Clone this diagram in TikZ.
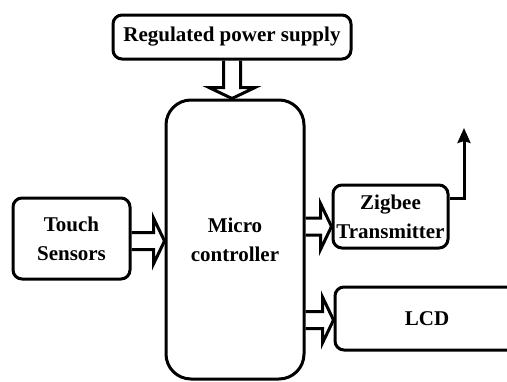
\documentclass[tikz,border=0pt]{standalone}
\usepackage{fontspec}
\setmainfont{Liberation Serif}[BoldFont={Liberation Serif Bold}]
\usepackage{tikz}
\usetikzlibrary{calc,positioning,arrows.meta}

\begin{document}
\begin{tikzpicture}[
  x=1pt, y=-1pt,
  block/.style={draw, line width=3pt, rounded corners=9pt, fill=white, align=center, inner sep=0pt, font=\bfseries\fontsize{21}{29}\selectfont},
  fatarr/.style={draw, line width=3pt, line join=miter, to path={
    let \p1=($(\tikztotarget)-(\tikztostart)$), \n1={veclen(\x1,\y1)}, \n2={atan2(\y1,\x1)} in
    ($(\tikztostart)+(\n2+90:8.5pt)$) -- ++(\n2:\n1-11pt) -- ++(\n2+90:14.5pt) -- (\tikztotarget)
    -- ($(\tikztotarget)+(\n2+180:11pt)+(\n2-90:23pt)$) -- ++(\n2+90:14.5pt) -- ++(\n2+180:\n1-11pt)}},
  antarr/.style={line width=3pt, -{Stealth[length=15pt, width=13pt, inset=2pt]}}
]
\useasboundingbox (0,0) rectangle (507,381);

\node[block, minimum width=138pt, minimum height=279pt, rounded corners=25pt] (mcu) at (235,239.5) {Micro\\controller};
\node[block, minimum width=238pt, minimum height=44pt] (supply) at (232,37) {Regulated power supply};
\node[block, minimum width=117pt, minimum height=81pt] (touch) at (71.5,238.5) {Touch\\Sensors};
\node[block, minimum width=115pt, minimum height=63pt] (zigbee) at (390.5,216.5) {Zigbee\\Transmitter};
\node[block, minimum width=184pt, minimum height=63pt] (lcd) at (427,318.5) {LCD};
\coordinate (ant) at (464,128);

% fat arrows
\draw[fatarr] (supply.south) to (supply.south |- mcu.north);
\draw[fatarr] ([yshift=-2.5pt]touch.east) to ([yshift=-2.5pt]touch.east -| mcu.west);
\draw[fatarr] ([yshift=-10pt]zigbee.west -| mcu.east) to ([yshift=-10pt]zigbee.west);
\draw[fatarr] ([yshift=-1.5pt]lcd.west -| mcu.east) to ([yshift=-1.5pt]lcd.west);

% antenna
\draw[antarr] ([yshift=18.5pt]zigbee.east) -| (ant);
\end{tikzpicture}
\end{document}
